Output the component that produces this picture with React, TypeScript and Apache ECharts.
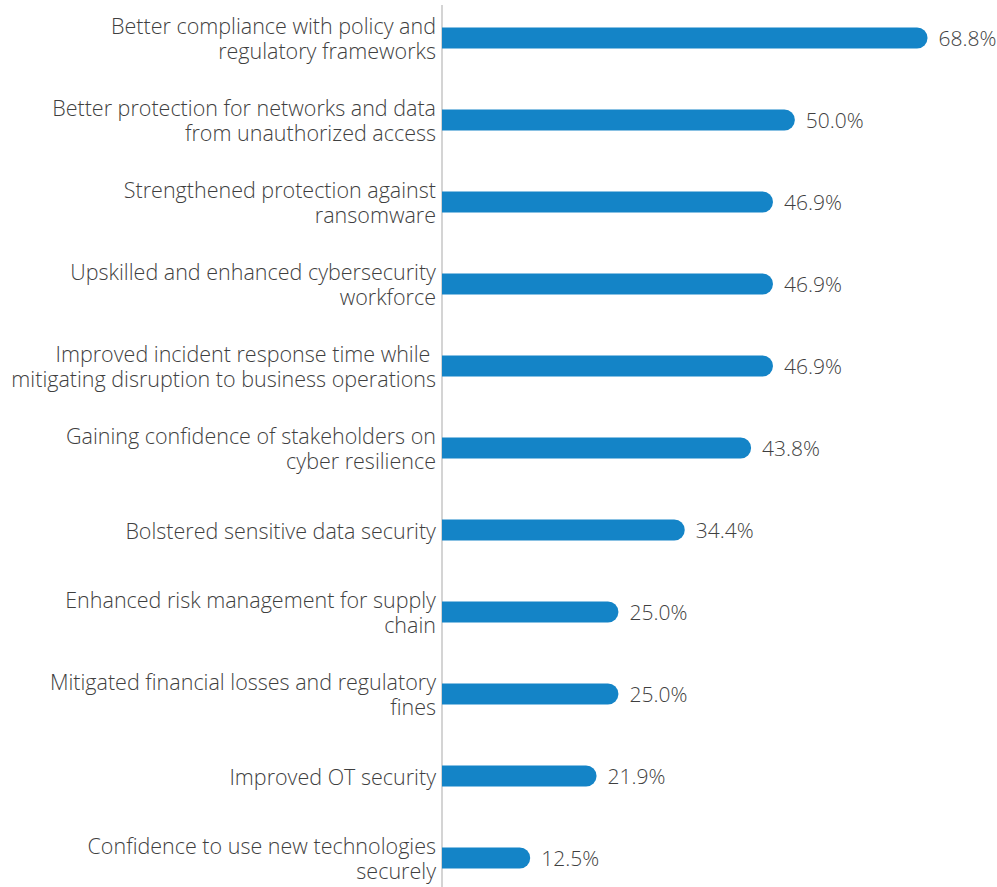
import React, { useEffect, useRef } from "react";
import * as echarts from "echarts";

const categories: string[] = [
  "Better compliance with policy and\nregulatory frameworks",
  "Better protection for networks and data\nfrom unauthorized access",
  "Strengthened protection against\nransomware",
  "Upskilled and enhanced cybersecurity\nworkforce",
  "Improved incident response time while \nmitigating disruption to business operations",
  "Gaining confidence of stakeholders on\ncyber resilience",
  "Bolstered sensitive data security",
  "Enhanced risk management for supply\nchain",
  "Mitigated financial losses and regulatory\nfines",
  "Improved OT security",
  "Confidence to use new technologies\nsecurely",
];

const values: number[] = [68.8, 50.0, 46.9, 46.9, 46.9, 43.8, 34.4, 25.0, 25.0, 21.9, 12.5];

const FONT = "'Open Sans', sans-serif";
const TEXT = "#3f3f3f";
const BLUE = "#1484C7";
const SHIFT = 20;

export default function App() {
  const ref = useRef<HTMLDivElement>(null);
  useEffect(() => {
    if (!ref.current) return;
    document.body.style.overflow = "hidden";
    const chart = echarts.init(ref.current, null, { renderer: "svg" });
    chart.setOption({
      animation: false,
      grid: { left: 442, top: SHIFT - 3, width: 494, height: 902, containLabel: false },
      xAxis: {
        type: "value",
        min: 0,
        max: 70,
        show: false,
      },
      yAxis: {
        type: "category",
        data: categories,
        inverse: true,
        axisLine: { show: false },
        axisTick: { show: false },
        splitLine: { show: false },
        axisLabel: {
          margin: 6,
          color: TEXT,
          fontFamily: FONT,
          fontWeight: 300,
          fontSize: 21.5,
          lineHeight: 25,
          padding: [0, 0, 6, 0],
          align: "right",
        },
      },
      graphic: [
        {
          type: "line",
          shape: { x1: 442, y1: SHIFT + 5, x2: 442, y2: SHIFT + 887 },
          style: { stroke: "#d4d4d4", lineWidth: 2 },
          z: 0,
        },
      ],
      series: [
        {
          type: "bar",
          data: values,
          barWidth: 21,
          itemStyle: { color: BLUE, borderRadius: [0, 11, 11, 0] },
          label: {
            show: true,
            position: "right",
            distance: 11,
            color: TEXT,
            fontFamily: FONT,
            fontWeight: 300,
            fontSize: 21,
            formatter: (p: any) => p.value.toFixed(1) + "%",
          },
          z: 2,
        },
      ],
    });
    return () => chart.dispose();
  }, []);
  return (
    <div
      ref={ref}
      style={{ position: "absolute", left: 0, top: -SHIFT, width: 997, height: 887 + SHIFT + 20 }}
    />
  );
}
